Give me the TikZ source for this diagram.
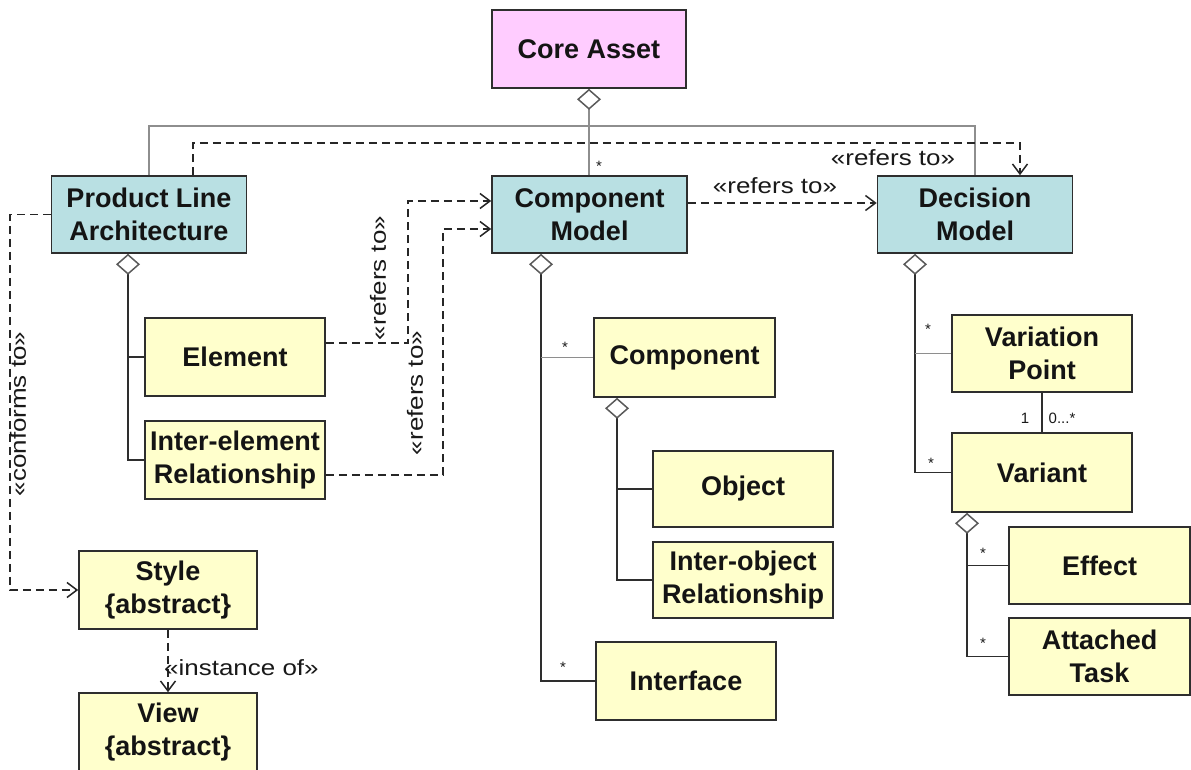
\documentclass[tikz,border=0pt]{standalone}
\usepackage{fontspec}
\setmainfont{Liberation Sans}
\newfontfamily\labelfont[FakeStretch=1.18]{Liberation Sans}
\usetikzlibrary{arrows.meta,calc}
\definecolor{pinkfill}{HTML}{FFCCFF}
\definecolor{tealfill}{HTML}{B9E0E3}
\definecolor{yellowfill}{HTML}{FFFFCC}
\definecolor{edge}{HTML}{2E2E2E}
\definecolor{hubgray}{HTML}{8E8E8E}
\definecolor{tipgray}{HTML}{5A5A5A}

\begin{document}
\begin{tikzpicture}[x=1pt,y=-1pt,
  cls/.style={draw=edge, line width=1.6pt, inner sep=0pt, align=center,
    font=\fontsize{27}{33}\selectfont\bfseries, text=black!92},
  core/.style={cls, fill=pinkfill, minimum width=194pt, minimum height=78pt},
  pkg/.style={cls, fill=tealfill, minimum width=195pt, minimum height=77pt},
  part/.style={cls, fill=yellowfill, minimum width=180pt, minimum height=78pt},
  lbl/.style={font=\labelfont\fontsize{22}{26}\selectfont, text=black!90, inner sep=0pt},
  mult/.style={font=\fontsize{15}{17}\selectfont, text=black!90, inner sep=0pt},
  tree/.style={draw=edge, line width=1.5pt},
  treegray/.style={draw=hubgray, line width=1.5pt},
  agg/.style={tree, {Diamond[open, fill=white, color=tipgray, length=21pt, width=24pt]}-},
  hubagg/.style={treegray, {Diamond[open, fill=white, color=tipgray, length=21pt, width=24pt]}-},
  dep/.style={draw=black!85, line width=1.5pt, dash pattern=on 8pt off 5pt,
    -{Straight Barb[length=10pt, width=15pt]}},
]
\useasboundingbox (0,0) rectangle (1191,769);
\clip (0,0) rectangle (1191,769);
\fill[white] (0,0) rectangle (1191,769);

% classes
\node[core] (core) at (589,49) {Core Asset};
\node[pkg] (pla) at (149,214.5) {Product Line\\Architecture};
\node[pkg] (cm) at (589.5,214.5) {Component\\Model};
\node[pkg] (dm) at (975,214.5) {Decision\\Model};

\node[part] (elem) at (235,357) {Element};
\node[part] (iel) at (235,460) {Inter-element\\Relationship};
\node[part, minimum width=178pt] (style) at (168,590) {Style\\\{abstract\}};
\node[part, minimum width=178pt] (view) at (168,732) {View\\\{abstract\}};

\node[part, minimum width=181pt, minimum height=79pt] (comp) at (684.5,357.5) {Component};
\node[part, minimum height=76pt] (obj) at (743,489) {Object};
\node[part, minimum height=76pt] (iobj) at (743,580) {Inter-object\\Relationship};
\node[part] (iface) at (686,681) {Interface};

\node[part, minimum height=77pt] (vp) at (1042,353.5) {Variation\\Point};
\node[part, minimum height=79pt] (var) at (1042,472.5) {Variant};
\node[part, minimum width=181pt, minimum height=77pt] (eff) at (1099.5,565.5) {Effect};
\node[part, minimum width=181pt, minimum height=77pt] (task) at (1099.5,656.5) {Attached\\Task};

% core asset composition
\coordinate (bus) at (0,126);
\coordinate (dbus) at (0,143);
\draw[treegray] (pla.north) |- (dm.north |- bus) -- (dm.north);
\draw[hubagg] (core.south) -- (core.south |- cm.north);
\node[mult] (mcore) at (599,166) {*};

% dependencies
\draw[dep] ([xshift=44pt]pla.north) |- ([xshift=45pt]dm.north |- dbus) -- ([xshift=45pt]dm.north);
\node[lbl] (lrefdm) at (893,158) {«refers to»};
\draw[dep] (cm.east |- 0,203) -- (dm.west |- 0,203);
\node[lbl] (lrefcd) at (775,186) {«refers to»};

\coordinate (cfx) at (10,0);
\draw[dep] (pla.west) -| (cfx |- style.west) -- (style.west);
\node[lbl, rotate=90] (lconf) at (18,414) {«conforms to»};

\draw[dep] (elem.east |- 0,343) -| (408,201) -- (cm.west |- 0,201);
\node[lbl, rotate=90] (lref1) at (378,278) {«refers to»};
\draw[dep] (iel.east |- 0,475) -| (443,229) -- (cm.west |- 0,229);
\node[lbl, rotate=90] (lref2) at (415,393) {«refers to»};

\draw[dep] (style.south) -- (view.north);
\node[lbl, anchor=west] (linst) at (164,668) {«instance of»};

% product line architecture parts
\coordinate (plax) at ([xshift=-21pt]pla.south);
\draw[agg] (plax) |- (iel.west);
\draw[tree] (plax |- elem.west) -- (elem.west);

% component model parts
\coordinate (cmx) at ([xshift=-48.5pt]cm.south);
\draw[agg] (cmx) |- (iface.west);
\draw[treegray] (cmx |- comp.west) -- (comp.west);
\node[mult] (mcomp) at (565,347) {*};
\node[mult] (miface) at (563,667) {*};

\coordinate (compx) at ([xshift=-67.5pt]comp.south);
\draw[agg] (compx) |- (iobj.west);
\draw[tree] (compx |- obj.west) -- (obj.west);

% decision model parts
\coordinate (dmx) at ([xshift=-60pt]dm.south);
\draw[agg] (dmx) |- (var.west);
\draw[treegray] (dmx |- vp.west) -- (vp.west);
\node[mult] (mvp) at (928,329) {*};
\node[mult] (mvar) at (931,463) {*};

\draw[tree] (vp.south) -- (var.north);
\node[mult] (mone) at (1025,418) {1};
\node[mult] (mmany) at (1062,418) {0...*};

\coordinate (varx) at ([xshift=-75pt]var.south);
\draw[agg] (varx) |- (task.west);
\draw[tree] (varx |- eff.west) -- (eff.west);
\node[mult] (meff) at (983,553) {*};
\node[mult] (mtask) at (983,643) {*};
\end{tikzpicture}
\end{document}
